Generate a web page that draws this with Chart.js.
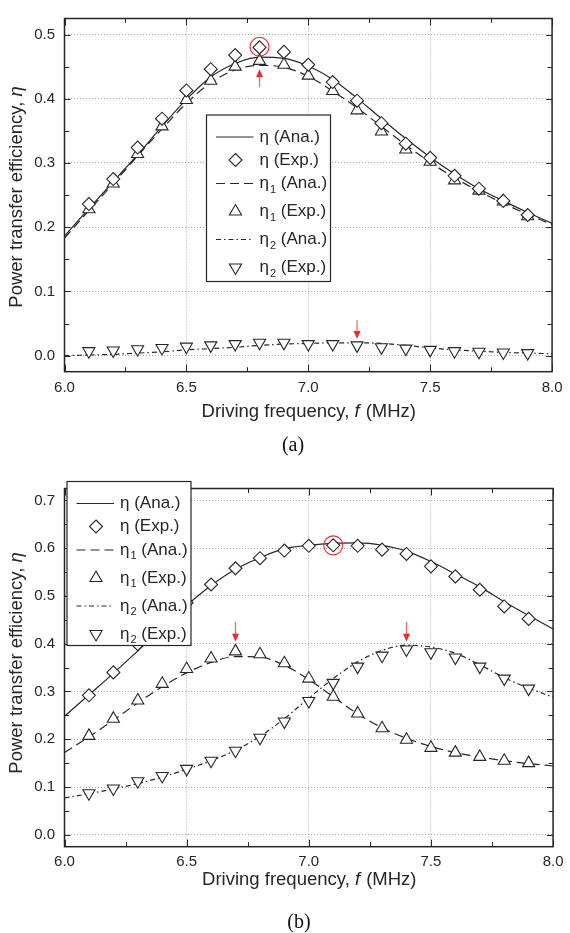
<!DOCTYPE html>
<html>
<head>
<meta charset="utf-8">
<script src="https://cdn.jsdelivr.net/npm/chart.js@4.4.0/dist/chart.umd.min.js"></script>
<style>
  html, body { margin: 0; padding: 0; background: #fff; }
  body { width: 570px; height: 933px; position: relative; overflow: hidden; }
  canvas { position: absolute; left: 0; }
  .caption { position: absolute; width: 60px; text-align: center; font: 20px "Liberation Serif", "Times New Roman", serif; line-height: 20px; color: #111; }
</style>
</head>
<body>
<canvas id="chartA" width="570" height="460" style="top:0"></canvas>
<canvas id="chartB" width="570" height="463" style="top:470px"></canvas>
<div class="caption" style="left:263px; top:434px">(a)</div>
<div class="caption" style="left:269px; top:911px">(b)</div>
<script>
// frequency grid (MHz)
const freqAna = [6.0, 6.1, 6.2, 6.3, 6.4, 6.5, 6.6, 6.7, 6.8, 6.9, 7.0, 7.1, 7.2, 7.3, 7.4, 7.5, 7.6, 7.7, 7.8, 7.9, 8.0];
const freqExp = [6.1, 6.2, 6.3, 6.4, 6.5, 6.6, 6.7, 6.8, 6.9, 7.0, 7.1, 7.2, 7.3, 7.4, 7.5, 7.6, 7.7, 7.8, 7.9];

// (a)
const etaAnaA  = [0.186, 0.229, 0.271, 0.313, 0.357, 0.399, 0.434, 0.455, 0.465, 0.463, 0.451, 0.430, 0.401, 0.369, 0.338, 0.309, 0.283, 0.260, 0.241, 0.223, 0.206];
const etaExpA  = [0.236, 0.275, 0.324, 0.369, 0.413, 0.446, 0.468, 0.480, 0.473, 0.453, 0.426, 0.397, 0.362, 0.330, 0.308, 0.280, 0.260, 0.241, 0.219];
const eta1AnaA = [0.183, 0.226, 0.268, 0.311, 0.353, 0.393, 0.425, 0.445, 0.452, 0.449, 0.435, 0.412, 0.386, 0.357, 0.328, 0.301, 0.277, 0.256, 0.237, 0.220, 0.204];
const eta1ExpA = [0.228, 0.268, 0.314, 0.357, 0.398, 0.428, 0.450, 0.459, 0.453, 0.436, 0.412, 0.382, 0.349, 0.321, 0.302, 0.273, 0.257, 0.240, 0.217];
const eta2AnaA = [0.000, 0.001, 0.002, 0.004, 0.006, 0.009, 0.011, 0.013, 0.016, 0.018, 0.019, 0.020, 0.020, 0.019, 0.016, 0.012, 0.009, 0.007, 0.005, 0.004, 0.003];
const eta2ExpA = [0.007, 0.008, 0.010, 0.012, 0.014, 0.016, 0.018, 0.020, 0.020, 0.018, 0.018, 0.016, 0.013, 0.011, 0.009, 0.007, 0.006, 0.005, 0.004];

// (b)
const etaAnaB  = [0.248, 0.293, 0.338, 0.385, 0.432, 0.480, 0.522, 0.556, 0.580, 0.599, 0.606, 0.610, 0.611, 0.606, 0.594, 0.572, 0.546, 0.519, 0.488, 0.459, 0.431];
const etaExpB  = [0.292, 0.340, 0.399, 0.442, 0.486, 0.524, 0.558, 0.579, 0.595, 0.605, 0.606, 0.605, 0.597, 0.588, 0.562, 0.541, 0.513, 0.478, 0.452];
const eta1AnaB = [0.172, 0.205, 0.240, 0.276, 0.310, 0.339, 0.361, 0.373, 0.372, 0.355, 0.325, 0.289, 0.253, 0.224, 0.202, 0.185, 0.172, 0.163, 0.155, 0.149, 0.144];
const eta1ExpB = [0.207, 0.243, 0.281, 0.316, 0.347, 0.369, 0.384, 0.378, 0.359, 0.327, 0.289, 0.254, 0.223, 0.199, 0.182, 0.172, 0.163, 0.155, 0.150];
const eta2AnaB = [0.077, 0.086, 0.096, 0.107, 0.121, 0.137, 0.155, 0.177, 0.206, 0.243, 0.286, 0.327, 0.362, 0.386, 0.397, 0.393, 0.380, 0.356, 0.329, 0.307, 0.288];
const eta2ExpB = [0.087, 0.097, 0.112, 0.123, 0.138, 0.155, 0.176, 0.203, 0.237, 0.280, 0.318, 0.352, 0.375, 0.388, 0.382, 0.371, 0.352, 0.327, 0.306];

// tick values
const xTicks  = [6.0, 6.5, 7.0, 7.5, 8.0];
const yTicksA = [0.0, 0.1, 0.2, 0.3, 0.4, 0.5];
const yTicksB = [0.0, 0.1, 0.2, 0.3, 0.4, 0.5, 0.6, 0.7];

// highlighted points and arrows (data units)
const circleA = {x: 6.8, y: 0.481};
const arrowsA = [{x: 6.8, from: 0.418, to: 0.446}, {x: 7.2, from: 0.055, to: 0.026}];
const circleB = {x: 7.1, y: 0.606};
const arrowsB = [{x: 6.7, from: 0.446, to: 0.404}, {x: 7.4, from: 0.446, to: 0.404}];

const FONT = '"Liberation Sans", Arial, Helvetica, sans-serif';
const INK = '#262626';
const GRID = '#a8a8a8';
const RED = '#ec2a30';
const DASH1 = [9, 5];
const DASH2 = [5, 3, 1.5, 3];
const R_DIAMOND = 6.5;
const R_TRIANGLE = 7;

const pts = (xs, ys) => xs.map((x, i) => ({x: x, y: ys[i]}));
const mids = arr => arr.slice(1).map((v, i) => (v + arr[i]) / 2);

function markerPath(ctx, kind, x, y, r) {
  ctx.beginPath();
  if (kind === 'diamond') {
    ctx.moveTo(x, y - r); ctx.lineTo(x + r, y); ctx.lineTo(x, y + r); ctx.lineTo(x - r, y);
  } else {
    const s = kind === 'up' ? 1 : -1;
    const h = r * Math.sqrt(3) / 2;
    ctx.moveTo(x, y - s * r); ctx.lineTo(x + h, y + s * r / 2); ctx.lineTo(x - h, y + s * r / 2);
  }
  ctx.closePath();
}

function etaLabel(ctx, x, y, sub, tail) {
  const main = '17px ' + FONT;
  ctx.font = main;
  ctx.fillText('η', x, y);
  let w = ctx.measureText('η').width;
  if (sub) {
    ctx.font = '11px ' + FONT;
    ctx.fillText(sub, x + w + 1, y + 6);
    w += ctx.measureText(sub).width + 1;
    ctx.font = main;
  }
  ctx.fillText(' ' + tail, x + w, y);
}

const legendRows = [
  {line: [], mark: null, sub: '', tail: '(Ana.)'},
  {line: null, mark: 'diamond', sub: '', tail: '(Exp.)'},
  {line: DASH1, mark: null, sub: '1', tail: '(Ana.)'},
  {line: null, mark: 'up', sub: '1', tail: '(Exp.)'},
  {line: DASH2, mark: null, sub: '2', tail: '(Ana.)'},
  {line: null, mark: 'down', sub: '2', tail: '(Exp.)'}
];
const rowOffsets = [22, 45, 68.5, 96.5, 124.5, 152.5];

const decor = {
  id: 'decor',
  afterDatasetsDraw(chart, args, o) {
    const {ctx, chartArea: a} = chart;
    const sx = chart.scales.x, sy = chart.scales.y;
    ctx.save();

    // frame with inward ticks on all four sides
    ctx.strokeStyle = INK;
    ctx.lineWidth = 1.5;
    ctx.strokeRect(a.left, a.top, a.right - a.left, a.bottom - a.top);
    ctx.lineWidth = 1;
    const seg = (x1, y1, x2, y2) => { ctx.beginPath(); ctx.moveTo(x1, y1); ctx.lineTo(x2, y2); ctx.stroke(); };
    const xt = (v, len) => { const p = Math.round(sx.getPixelForValue(v)) + 0.5; seg(p, a.bottom, p, a.bottom - len); seg(p, a.top, p, a.top + len); };
    const yt = (v, len) => { const p = Math.round(sy.getPixelForValue(v)) + 0.5; seg(a.left, p, a.left + len, p); seg(a.right, p, a.right - len, p); };
    xTicks.forEach(v => xt(v, 7));
    mids(xTicks).forEach(v => xt(v, 4.5));
    o.yTicks.forEach(v => yt(v, 6));
    mids(o.yTicks).forEach(v => yt(v, 4.5));

    // legend box
    const L = o.legend;
    ctx.fillStyle = '#fff';
    ctx.fillRect(L.left, L.top, L.width, L.height);
    ctx.strokeStyle = INK;
    ctx.lineWidth = 1.2;
    ctx.strokeRect(L.left, L.top, L.width, L.height);
    ctx.textBaseline = 'middle';
    ctx.textAlign = 'left';
    legendRows.forEach((r, i) => {
      const y = L.top + rowOffsets[i];
      ctx.strokeStyle = INK;
      if (r.line) {
        ctx.lineWidth = 1.2;
        ctx.setLineDash(r.line);
        seg(L.left + 9.5, y, L.left + 47, y);
        ctx.setLineDash([]);
      }
      if (r.mark) {
        ctx.lineWidth = 1.1;
        markerPath(ctx, r.mark, L.left + 29, y, r.mark === 'diamond' ? R_DIAMOND : R_TRIANGLE);
        ctx.fillStyle = '#fff';
        ctx.fill();
        ctx.stroke();
      }
      ctx.fillStyle = INK;
      etaLabel(ctx, L.left + 53, y, r.sub, r.tail);
    });

    // red highlight circle and arrows
    const c = o.circle;
    ctx.strokeStyle = RED;
    ctx.lineWidth = 1.1;
    ctx.beginPath();
    ctx.arc(sx.getPixelForValue(c.x), sy.getPixelForValue(c.y), 9.5, 0, Math.PI * 2);
    ctx.stroke();
    o.arrows.forEach(ar => {
      const x = sx.getPixelForValue(ar.x);
      const y0 = sy.getPixelForValue(ar.from);
      const y1 = sy.getPixelForValue(ar.to);
      const dir = y1 > y0 ? 1 : -1;
      ctx.strokeStyle = '#f26a6e';
      ctx.lineWidth = 1.3;
      seg(x, y0, x, y1 - dir * 6);
      ctx.fillStyle = RED;
      ctx.beginPath();
      ctx.moveTo(x, y1);
      ctx.lineTo(x - 3.5, y1 - dir * 8);
      ctx.lineTo(x + 3.5, y1 - dir * 8);
      ctx.closePath();
      ctx.fill();
    });
    ctx.restore();
  },
  afterDraw(chart, args, o) {
    const {ctx, chartArea: a} = chart;
    const size = 18.5;
    const up = size + 'px ' + FONT, it = 'italic ' + size + 'px ' + FONT;
    ctx.save();
    ctx.fillStyle = INK;
    ctx.textBaseline = 'alphabetic';
    ctx.textAlign = 'left';

    // x axis title
    const p1 = 'Driving frequency, ', p2 = 'f', p3 = ' (MHz)';
    ctx.font = up; const w1 = ctx.measureText(p1).width, w3 = ctx.measureText(p3).width;
    ctx.font = it; const w2 = ctx.measureText(p2).width;
    let x0 = (a.left + a.right) / 2 - (w1 + w2 + w3) / 2;
    ctx.font = up; ctx.fillText(p1, x0, o.xTitleY);
    ctx.font = it; ctx.fillText(p2, x0 + w1, o.xTitleY);
    ctx.font = up; ctx.fillText(p3, x0 + w1 + w2 + 1, o.xTitleY);

    // y axis title
    const q1 = 'Power transfer efficiency, ', q2 = 'η';
    ctx.font = up; const v1 = ctx.measureText(q1).width;
    ctx.font = it; const v2 = ctx.measureText(q2).width;
    ctx.translate(21.5, o.yTitleY);
    ctx.rotate(-Math.PI / 2);
    const y0 = -(v1 + v2) / 2;
    ctx.font = up; ctx.fillText(q1, y0, 0);
    ctx.font = it; ctx.fillText(q2, y0 + v1, 0);
    ctx.restore();
  }
};

function buildChart(id, s) {
  const marker = {showLine: false, pointBackgroundColor: '#fff', pointBorderColor: INK, pointBorderWidth: 1.1, order: 0};
  const curve = {borderColor: INK, borderWidth: 1.2, pointRadius: 0, fill: false, cubicInterpolationMode: 'monotone', order: 1};
  return new Chart(document.getElementById(id), {
    type: 'line',
    data: {
      datasets: [
        Object.assign({label: 'η (Exp.)', data: pts(freqExp, s.etaExp), pointStyle: 'rectRot', pointRadius: R_DIAMOND}, marker),
        Object.assign({label: 'η1 (Exp.)', data: pts(freqExp, s.eta1Exp), pointStyle: 'triangle', pointRadius: R_TRIANGLE}, marker),
        Object.assign({label: 'η2 (Exp.)', data: pts(freqExp, s.eta2Exp), pointStyle: 'triangle', pointRotation: 180, pointRadius: R_TRIANGLE}, marker),
        Object.assign({label: 'η (Ana.)', data: pts(freqAna, s.etaAna)}, curve),
        Object.assign({label: 'η1 (Ana.)', data: pts(freqAna, s.eta1Ana), borderDash: DASH1}, curve),
        Object.assign({label: 'η2 (Ana.)', data: pts(freqAna, s.eta2Ana), borderDash: DASH2}, curve)
      ]
    },
    options: {
      responsive: false,
      animation: false,
      events: [],
      layout: {padding: {left: 0, right: 13, top: s.top, bottom: 0}},
      scales: {
        x: {
          type: 'linear', min: 6, max: 8,
          afterBuildTicks: sc => { sc.ticks = xTicks.map(v => ({value: v})); },
          afterFit: sc => { sc.height = s.xAxisH; },
          grid: {color: GRID, lineWidth: 1, drawTicks: false},
          border: {display: false, dash: [1, 2]},
          ticks: {padding: s.xPad, color: INK, font: {family: FONT, size: 15}, maxRotation: 0, autoSkip: false, callback: v => v.toFixed(1)}
        },
        y: {
          type: 'linear', min: -0.025, max: s.yMax,
          afterBuildTicks: sc => { sc.ticks = s.yTicks.map(v => ({value: v})); },
          afterFit: sc => { sc.width = 64.5; },
          grid: {color: GRID, lineWidth: 1, drawTicks: false},
          border: {display: false, dash: [1, 2]},
          ticks: {padding: 9.5, color: INK, font: {family: FONT, size: 15}, autoSkip: false, callback: v => v.toFixed(1)}
        }
      },
      plugins: {
        legend: {display: false},
        tooltip: {enabled: false},
        decor: {yTicks: s.yTicks, legend: s.legend, circle: s.circle, arrows: s.arrows, xTitleY: s.xTitleY, yTitleY: s.yTitleY}
      }
    },
    plugins: [decor]
  });
}

buildChart('chartA', {
  etaAna: etaAnaA, etaExp: etaExpA, eta1Ana: eta1AnaA, eta1Exp: eta1ExpA, eta2Ana: eta2AnaA, eta2Exp: eta2ExpA,
  yTicks: yTicksA, yMax: 0.525, top: 4.5, xAxisH: 88.3, xPad: 7.5,
  legend: {left: 206.5, top: 115, width: 124, height: 166.5},
  circle: circleA, arrows: arrowsA, xTitleY: 416.5, yTitleY: 197
});

buildChart('chartB', {
  etaAna: etaAnaB, etaExp: etaExpB, eta1Ana: eta1AnaB, eta1Exp: eta1ExpB, eta2Ana: eta2AnaB, eta2Exp: eta2ExpB,
  yTicks: yTicksB, yMax: 0.725, top: 10, xAxisH: 86.3, xPad: 6.5,
  legend: {left: 67, top: 11.5, width: 124, height: 164},
  circle: circleB, arrows: arrowsB, xTitleY: 414.5, yTitleY: 193
});
</script>
</body>
</html>
